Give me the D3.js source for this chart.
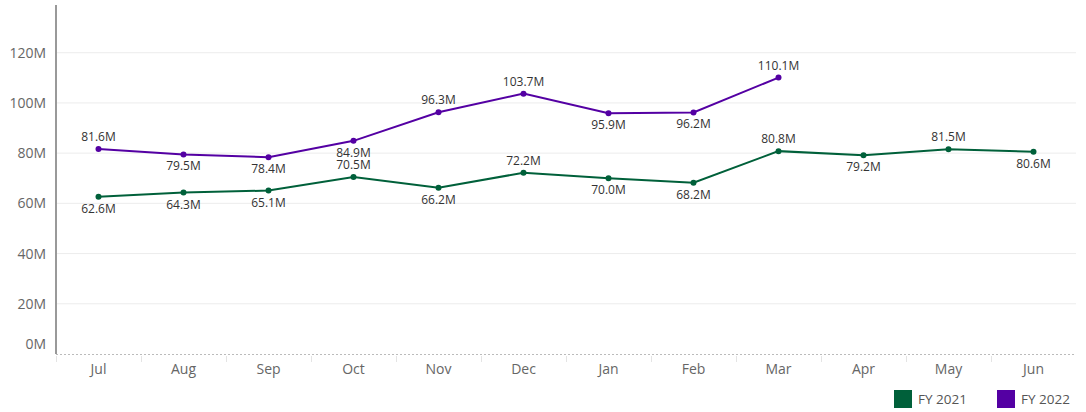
<!DOCTYPE html>
<html><head><meta charset="utf-8">
<script src="https://cdn.jsdelivr.net/npm/d3@7"></script>
<style>body{margin:0;background:#fff;}svg{display:block;font-family:"Open Sans",sans-serif;}</style>
</head><body><svg id="c" width="1086" height="412"></svg>
<script>
const months = ["Jul","Aug","Sep","Oct","Nov","Dec","Jan","Feb","Mar","Apr","May","Jun"];
const fy2021 = [62.6,64.3,65.1,70.5,66.2,72.2,70.0,68.2,80.8,79.2,81.5,80.6];
const fy2022 = [81.6,79.5,78.4,84.9,96.3,103.7,95.9,96.2,110.1];
const pos2021 = ["b","b","b","a","b","a","b","b","a","b","a","b"];
const pos2022 = ["a","b","b","b","a","a","b","b","a"];
const yTicks = [0,20,40,60,80,100,120];
const seriesNames = ["FY 2021","FY 2022"];
const colors = ["#00603a","#5400a3"];

const svg = d3.select("#c");
const x = d3.scaleBand().domain(months).range([56,1076]);
const y = d3.scaleLinear().domain([0,139]).range([354,5]);

// gridlines
svg.append("g").selectAll("line").data(yTicks.filter(d=>d>0)).join("line")
  .attr("x1",56).attr("x2",1076).attr("y1",d=>y(d)).attr("y2",d=>y(d))
  .attr("stroke","#ececec").attr("stroke-width",1);

// y axis
const ya = svg.append("g").attr("transform","translate(56,0)")
  .call(d3.axisLeft(y).tickValues(yTicks).tickFormat(d=>d+"M").tickSize(0).tickPadding(10));
ya.select(".domain").remove();
ya.selectAll("text").attr("fill","#666").style("font-size","14px").attr("font-family","'Open Sans',sans-serif");
ya.selectAll(".tick").filter(d=>d===0).select("text").attr("dy","-0.4em");
svg.append("line").attr("x1",56).attr("x2",56).attr("y1",5).attr("y2",354).attr("stroke","#999").attr("stroke-width",2);

// baseline dotted
svg.append("line").attr("x1",56).attr("x2",1076).attr("y1",354.5).attr("y2",354.5)
  .attr("stroke","#bbb").attr("stroke-dasharray","2,2");

// x axis
const xa = svg.append("g").attr("transform","translate(0,355)")
  .call(d3.axisBottom(x).tickSize(0).tickPadding(9));
xa.select(".domain").remove();
xa.selectAll("text").attr("fill","#666").style("font-size","14px").attr("font-family","'Open Sans',sans-serif");
svg.append("g").selectAll("line").data(months).join("line")
  .attr("x1",d=>x(d)+0.5).attr("x2",d=>x(d)+0.5).attr("y1",356).attr("y2",362)
  .attr("stroke","#e4e4e4");

function drawSeries(vals, pos, color){
  const data = vals.map((v,i)=>({m:months[i],v,p:pos[i]}));
  const line = d3.line().x(d=>x(d.m)+x.bandwidth()/2).y(d=>y(d.v));
  svg.append("path").datum(data).attr("d",line).attr("fill","none").attr("stroke",color).attr("stroke-width",2);
  svg.append("g").selectAll("circle").data(data).join("circle")
    .attr("cx",d=>x(d.m)+x.bandwidth()/2).attr("cy",d=>y(d.v)).attr("r",3).attr("fill",color);
  svg.append("g").selectAll("text").data(data).join("text")
    .attr("x",d=>x(d.m)+x.bandwidth()/2)
    .attr("y",d=>y(d.v)+(d.p==="a"?-8:16))
    .attr("text-anchor","middle").attr("fill","#333").style("font-size","12px")
    .text(d=>d.v.toFixed(1)+"M");
}
drawSeries(fy2021,pos2021,colors[0]);
drawSeries(fy2022,pos2022,colors[1]);

// legend
const lx = [894,997];
seriesNames.forEach((n,i)=>{
  svg.append("rect").attr("x",lx[i]).attr("y",390).attr("width",18).attr("height",18).attr("fill",colors[i]);
  svg.append("text").attr("x",lx[i]+24).attr("y",404).attr("fill","#555").style("font-size","13.5px").text(n);
});
</script></body></html>
